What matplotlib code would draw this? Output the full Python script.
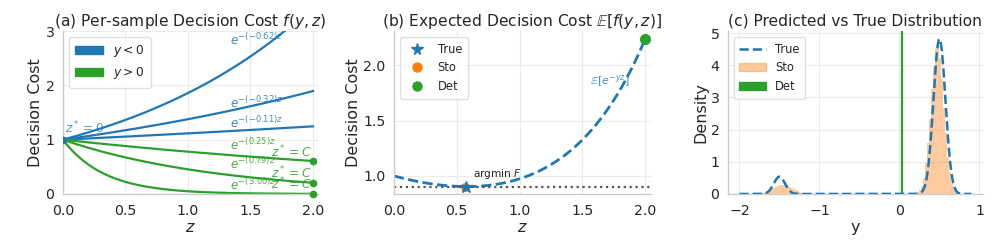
import numpy as np
import matplotlib
matplotlib.use("Agg")
import matplotlib.pyplot as plt
from matplotlib.patches import Patch
from matplotlib.lines import Line2D

# ---------------- data ----------------
# (a) sample y values defining per-sample cost exp(-y z)
neg_ys = [-0.62, -0.32, -0.11]
pos_ys = [0.25, 0.79, 3.00]
neg_label_pos = [(1.34, 2.83), (1.34, 1.68), (1.34, 1.30)]
pos_label_pos = [(1.34, 0.90), (1.34, 0.55), (1.34, 0.17)]
z_min, z_max = 0.0, 2.0

# true distribution: two-component gaussian mixture
true_weights = [0.094, 0.906]
true_means = [-1.50, 0.50]
true_stds = [0.070, 0.075]
y_min, y_max = -2.0, 0.9

# stochastic prediction histogram (density), bin width 0.025
sto_bin_width = 0.025
sto_left_start = -1.775
sto_left_heights = [0.01, 0.016, 0.025, 0.04, 0.06, 0.08, 0.11, 0.14, 0.18, 0.21,
                    0.245, 0.27, 0.28, 0.28, 0.27, 0.245, 0.21, 0.18, 0.14, 0.11,
                    0.08, 0.06, 0.04, 0.025, 0.016, 0.01]
sto_right_start = 0.225
sto_right_heights = [0.05, 0.12, 0.26, 0.50, 0.95, 1.58, 2.33, 3.27, 3.95, 4.52,
                     4.60, 4.21, 3.57, 2.68, 1.89, 1.14, 0.68, 0.33, 0.17, 0.06, 0.03]

# decisions
z_true = 0.57
z_sto = 0.565
z_det = 2.0
y_det = 0.03

BLUE = "#1f77b4"
ORANGE = "#ff7f0e"
GREEN = "#2ca02c"
TXT = "#262626"

plt.rcParams.update({
    "font.family": ["DejaVu Sans"],
    "axes.edgecolor": "#cccccc",
    "axes.linewidth": 1.0,
    "axes.grid": True,
    "grid.color": "#ebebeb",
    "grid.linewidth": 0.8,
    "text.color": TXT,
    "axes.labelcolor": TXT,
    "xtick.color": TXT,
    "ytick.color": TXT,
    "xtick.major.size": 0,
    "ytick.major.size": 0,
    "xtick.major.pad": 7,
    "ytick.major.pad": 6,
    "xtick.labelsize": 10.2,
    "ytick.labelsize": 10.2,
    "axes.labelsize": 11.5,
    "axes.labelpad": 1.5,
    "axes.titlesize": 11.2,
    "legend.fontsize": 8.3,
    "mathtext.fontset": "dejavusans",
})

fig = plt.figure(figsize=(9.97, 2.49), dpi=100)
ax_a = fig.add_axes([0.063, 0.221, 0.256, 0.654])
ax_b = fig.add_axes([0.395, 0.221, 0.258, 0.654])
ax_c = fig.add_axes([0.730, 0.221, 0.256, 0.654])
for ax in (ax_a, ax_b, ax_c):
    ax.spines["top"].set_visible(False)
    ax.spines["right"].set_visible(False)
    ax.set_axisbelow(True)

# ---------------- (a) ----------------
z = np.linspace(z_min, z_max, 300)
for yv, (lx, ly) in zip(neg_ys, neg_label_pos):
    ax_a.plot(z, np.exp(-yv * z), color=BLUE, lw=1.6)
    ax_a.text(lx, ly, r"$e^{-(%.2f)z}$" % yv, color=BLUE, alpha=0.85,
              fontsize=8.6, va="center", ha="left")
for yv, (lx, ly) in zip(pos_ys, pos_label_pos):
    ax_a.plot(z, np.exp(-yv * z), color=GREEN, lw=1.6)
    ax_a.text(lx, ly, r"$e^{-(%.2f)z}$" % yv, color=GREEN, alpha=0.85,
              fontsize=8.6, va="center", ha="left")
    fz = np.exp(-yv * z_max)
    ax_a.plot([z_max], [fz], "o", color=GREEN, ms=4.5, clip_on=False, zorder=5)
    ax_a.text(z_max - 0.01, fz + 0.02, r"$z^* = C$", color=GREEN, alpha=0.85,
              fontsize=8.8, ha="right", va="bottom")
ax_a.plot([z_min], [1.0], "o", color=BLUE, ms=4.5, zorder=5)
ax_a.text(0.02, 1.07, r"$z^* = 0$", color=BLUE, alpha=0.75, fontsize=8.8,
          ha="left", va="bottom")
ax_a.set_xlim(0, 2.04)
ax_a.set_ylim(0, 3)
ax_a.set_yticks([0, 1, 2, 3])
ax_a.set_xticks([0, 0.5, 1.0, 1.5, 2.0])
ax_a.set_xlabel(r"$z$")
ax_a.set_ylabel("Decision Cost")
ax_a.set_title(r"(a) Per-sample Decision Cost $f(y,z)$", pad=4)
ax_a.legend(handles=[Patch(color=BLUE, label=r"$y<0$"),
                     Patch(color=GREEN, label=r"$y>0$")],
            loc="upper left", fancybox=True, edgecolor="#d9d9d9",
            handlelength=2.3, borderpad=0.5, fontsize=8.8)

# ---------------- (b) ----------------
w = np.array(true_weights); m = np.array(true_means); s = np.array(true_stds)

def expected_cost(zz):
    zz = np.atleast_1d(zz)[:, None]
    return (w * np.exp(-m * zz + 0.5 * s ** 2 * zz ** 2)).sum(axis=1)

Ez = expected_cost(z)
f_true = expected_cost(z_true)[0]
ax_b.plot(z, Ez, "--", color=BLUE, lw=2.0)
ax_b.axhline(f_true, color="#555555", ls=":", lw=1.6)
ax_b.plot([z_sto], expected_cost(z_sto), "o", color=ORANGE, ms=5.5, zorder=4)
ax_b.plot([z_true], [f_true], "*", color=BLUE, ms=9, zorder=5)
ax_b.plot([z_det], expected_cost(z_det), "o", color=GREEN, ms=7,
          clip_on=False, zorder=5)
ax_b.text(z_true + 0.06, f_true + 0.05, r"argmin $F$", fontsize=7.6, ha="left",
          va="bottom")
ax_b.text(1.56, 1.86, r"$\mathbb{E}[e^{-yz}]$", color=BLUE, alpha=0.8,
          fontsize=8.0, ha="left", va="center")
ax_b.set_xlim(0, 2.045)
ax_b.set_xticks([0, 0.5, 1.0, 1.5, 2.0])
ax_b.set_yticks([1.0, 1.5, 2.0])
ax_b.set_xlabel(r"$z$")
ax_b.set_ylabel("Decision Cost")
ax_b.set_title(r"(b) Expected Decision Cost $\mathbb{E}[f(y,z)]$", pad=4)
hb = [Line2D([], [], ls="none", marker="*", color=BLUE, ms=8.5, label="True"),
      Line2D([], [], ls="none", marker="o", color=ORANGE, ms=6.5, label="Sto"),
      Line2D([], [], ls="none", marker="o", color=GREEN, ms=6.5, label="Det")]
ax_b.legend(handles=hb, loc="upper left", fancybox=True, edgecolor="#d9d9d9",
            borderpad=0.5)

# ---------------- (c) ----------------
yy = np.linspace(y_min, y_max, 600)
dens = (w * np.exp(-0.5 * ((yy[:, None] - m) / s) ** 2) / (s * np.sqrt(2 * np.pi))).sum(axis=1)
for start, heights in ((sto_left_start, sto_left_heights), (sto_right_start, sto_right_heights)):
    lefts = start + sto_bin_width * np.arange(len(heights))
    ax_c.bar(lefts, heights, width=sto_bin_width, align="edge", color=ORANGE,
             alpha=0.4, linewidth=0)
ax_c.plot(yy, dens, "--", color=BLUE, lw=1.8, zorder=4)
ax_c.axvline(y_det, color=GREEN, lw=1.6)
ax_c.set_xlim(-2.145, 1.045)
ax_c.set_ylim(0, 5.06)
ax_c.set_xticks([-2, -1, 0, 1])
ax_c.set_yticks([0, 1, 2, 3, 4, 5])
ax_c.set_xlabel("y")
ax_c.set_ylabel("Density")
ax_c.set_title("(c) Predicted vs True Distribution", pad=4)
hc = [Line2D([], [], ls="--", color=BLUE, lw=1.8, label="True"),
      Patch(color=ORANGE, alpha=0.4, label="Sto"),
      Patch(color=GREEN, label="Det")]
ax_c.legend(handles=hc, loc="upper left", fancybox=True, edgecolor="#d9d9d9",
            handlelength=2.3, borderpad=0.5)

fig.savefig("out.png", dpi=100)
